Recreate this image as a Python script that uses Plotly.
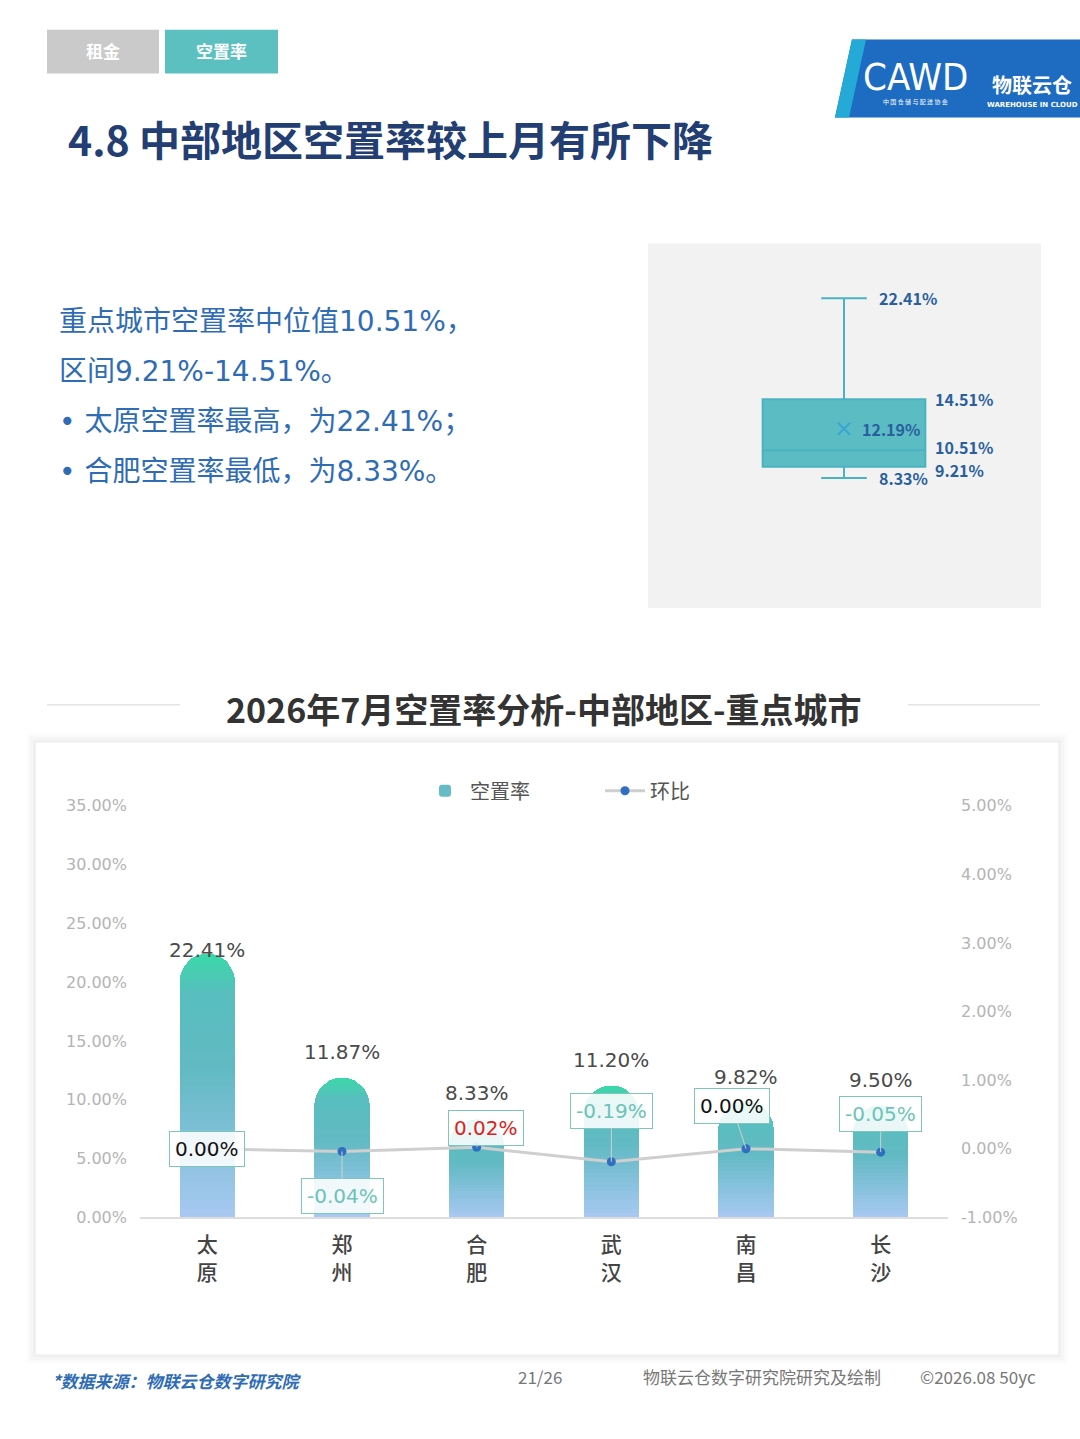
import plotly.graph_objects as go

# ---------------- data ----------------
cities = ["太原", "郑州", "合肥", "武汉", "南昌", "长沙"]
vacancy = [22.41, 11.87, 8.33, 11.20, 9.82, 9.50]      # 空置率 %
mom = [0.00, -0.04, 0.02, -0.19, 0.00, -0.05]           # 环比 %

left_ticks = [0, 5, 10, 15, 20, 25, 30, 35]
right_ticks = [-1, 0, 1, 2, 3, 4, 5]

# box-plot summary (重点城市空置率)
box_min = 8.33
box_q1 = 9.21
box_median = 10.51
box_mean = 12.19
box_q3 = 14.51
box_max = 22.41

W, H = 1080, 1439
FONT = "Noto Sans CJK SC"
NUMFONT = "DejaVu Sans, Noto Sans CJK SC"

# vertical placement correction for how the page is photographed
VS, VO = 0.9879, 8.35


def px(x):
    return x / W


def py(y):
    return 1 - ((y - VO) / VS) / H


fig = go.Figure()

# ---------- gradient bars (stacked slices of each bar) ----------
N = 30
stops = [(0.0, (168, 200, 242)), (0.55, (98, 186, 196)), (0.85, (88, 190, 190)), (1.0, (58, 216, 168))]


def grad(t):
    for (t0, c0), (t1, c1) in zip(stops[:-1], stops[1:]):
        if t <= t1:
            f = (t - t0) / (t1 - t0) if t1 > t0 else 0
            return "rgb(%d,%d,%d)" % tuple(round(a + (b - a) * f) for a, b in zip(c0, c1))
    return "rgb(%d,%d,%d)" % stops[-1][1]


for i in range(N):
    t = (i + 0.5) / N
    fig.add_trace(go.Bar(
        x=cities, y=[v / N for v in vacancy],
        marker=dict(color=grad(t), line=dict(width=0)),
        width=0.41, name="空置率",
        legendgroup="bar", showlegend=(i == N // 2),
        hoverinfo="skip", yaxis="y", xaxis="x",
    ))

fig.add_trace(go.Scatter(
    x=cities, y=mom, name="环比", mode="lines+markers",
    line=dict(color="#cfcfcf", width=3),
    marker=dict(color="#2f6fc0", size=9),
    xaxis="x", yaxis="y2",
))

# ---------- box plot ----------
fig.add_trace(go.Box(
    x=[0], q1=[box_q1], median=[box_median], q3=[box_q3],
    lowerfence=[box_min], upperfence=[box_max],
    width=0.83, whiskerwidth=0.28,
    fillcolor="#5bbcc4", line=dict(color="#4bb2c0", width=2),
    showlegend=False, xaxis="x3", yaxis="y3", hoverinfo="skip",
))
fig.add_trace(go.Scatter(
    x=[0], y=[box_mean], mode="markers",
    marker=dict(symbol="x-thin", size=12, line=dict(color="#3aa6d0", width=2)),
    showlegend=False, xaxis="x3", yaxis="y3", hoverinfo="skip",
))

shapes = []
ann = []


def ptext(x, y, text, size, color, xanchor="center", family=FONT):
    ann.append(dict(x=px(x), y=py(y), xref="paper", yref="paper", xanchor=xanchor, yanchor="middle",
                    text=text, showarrow=False, font=dict(size=size, color=color, family=family)))


def prect(x0, y0, x1, y1, color):
    shapes.append(dict(type="rect", xref="paper", yref="paper", x0=px(x0), x1=px(x1), y0=py(y1), y1=py(y0),
                       fillcolor=color, line=dict(width=0), layer="below"))


# tabs
prect(47, 29, 159, 73, "#cacaca")
prect(165, 29, 278, 73, "#5cc0c0")
ptext(103, 50, "<b>租金</b>", 17, "white")
ptext(221, 50, "<b>空置率</b>", 17, "white")

# logo
shapes.append(dict(type="path", xref="paper", yref="paper",
                   path="M %f,%f L %f,%f L %f,%f L %f,%f Z" % (px(852), py(39), px(1080), py(39), px(1080), py(117), px(835), py(117)),
                   fillcolor="#1d6cc2", line=dict(width=0), layer="below"))
shapes.append(dict(type="path", xref="paper", yref="paper",
                   path="M %f,%f L %f,%f L %f,%f L %f,%f Z" % (px(852), py(39), px(866), py(39), px(849), py(117), px(835), py(117)),
                   fillcolor="#25a9d6", line=dict(width=0), layer="below"))
ptext(915, 76, "CAWD", 38, "white", family="Liberation Sans Narrow, DejaVu Sans Condensed")
ptext(915, 101, "中 国 仓 储 与 配 送 协 会", 6, "white")
ptext(1032, 84, "<b>物联云仓</b>", 20, "white")
ptext(1032, 104, "<b>WAREHOUSE IN CLOUD</b>", 7, "white", family="Liberation Sans Narrow, DejaVu Sans")

# title
ptext(66, 137, "<b>4.8 中部地区空置率较上月有所下降</b>", 41, "#223e72", xanchor="left")

# left texts
txt_color = "#2f6cb4"
for yy, t in [(321, "重点城市空置率中位值10.51%，"), (371, "区间9.21%-14.51%。"),
              (421, "• 太原空置率最高，为22.41%；"), (471, "• 合肥空置率最低，为8.33%。")]:
    ptext(57, yy, t, 28, txt_color, xanchor="left", family=NUMFONT)

# box panel
prect(648, 243, 1041, 608, "#f2f2f2")
box_lbl = dict(size=16, color="#2a5f9e", family=FONT)
for xv, yv, t, ys in [(0.17, box_max, "22.41%", 0), (0.455, box_q3, "14.51%", 0),
                      (0.08, box_mean, "12.19%", 0), (0.455, box_median, "10.51%", 3),
                      (0.455, box_q1, "9.21%", -3), (0.17, box_min, "8.33%", 0)]:
    ann.append(dict(x=xv, y=yv, xref="x3", yref="y3", xanchor="left", yanchor="middle", yshift=ys,
                    text="<b>%s</b>" % t, showarrow=False, font=box_lbl))

# section header
shapes.append(dict(type="line", xref="paper", yref="paper", x0=px(47), x1=px(180), y0=py(705), y1=py(705),
                   line=dict(color="#d6d6d6", width=1)))
shapes.append(dict(type="line", xref="paper", yref="paper", x0=px(908), x1=px(1040), y0=py(705), y1=py(705),
                   line=dict(color="#d6d6d6", width=1)))
ptext(543, 709, "<b>2026年7月空置率分析-中部地区-重点城市</b>", 34, "#333333")

# card with soft shadow
for d, c in [(9, "#fbfbfb"), (6, "#f6f6f6"), (3, "#f0f0f0")]:
    prect(36 - d, 743 - d, 1058 + d, 1355 + d, c)
prect(36, 743, 1058, 1355, "white")

# bar value labels
label_yshift = [4, 26, 26, 26, 25, 26]
for c, v, s in zip(cities, vacancy, label_yshift):
    ann.append(dict(x=c, y=v, xref="x", yref="y", text="%.2f%%" % v, showarrow=False, yshift=s,
                    xanchor="center", yanchor="middle",
                    font=dict(size=20, color="#4a4a4a", family=NUMFONT)))

# mom labels (boxed)
label_offsets = [(0, 0), (0, 45), (9, -19), (0, -51), (-14, -43), (0, -38)]
for c, v, (ax_, ay_) in zip(cities, mom, label_offsets):
    col = "#111111" if v == 0 else ("#e02020" if v > 0 else "#6cc3b8")
    a = dict(x=c, y=v, xref="x", yref="y2", text="%.2f%%" % v,
             font=dict(size=20, color=col, family=NUMFONT),
             bgcolor="rgba(255,255,255,0.88)", bordercolor="#7cc6bc", borderwidth=1, borderpad=5)
    if ax_ == 0 and ay_ == 0:
        a["showarrow"] = False
    else:
        a.update(showarrow=True, arrowhead=0, arrowcolor="#d0d0d0", arrowwidth=1, ax=ax_, ay=ay_)
    ann.append(a)

# footer
ptext(50, 1381, "<b><i>*数据来源：物联云仓数字研究院</i></b>", 17, "#2f6cb4", xanchor="left")
ptext(540, 1377, "21/26", 17, "#777777")
ptext(641, 1377, "物联云仓数字研究院研究及绘制", 17, "#777777", xanchor="left")
ptext(1038, 1377, "©2026.08 50yc", 17, "#777777", xanchor="right")

tick_font = dict(size=16, color="#b4b4b4", family=NUMFONT)
fig.update_layout(
    width=W, height=H, margin=dict(l=0, r=0, t=0, b=0),
    paper_bgcolor="white", plot_bgcolor="rgba(0,0,0,0)",
    barmode="stack", barcornerradius=28,
    font=dict(family=FONT),
    showlegend=True,
    legend=dict(orientation="h", x=px(420), y=py(791), xanchor="left", yanchor="middle",
                font=dict(size=20, color="#555555", family=FONT), itemwidth=40,
                entrywidth=125, entrywidthmode="pixels",
                bgcolor="rgba(0,0,0,0)", traceorder="normal"),
    xaxis=dict(domain=[px(140), px(948)], anchor="y", type="category",
               tickvals=cities, ticktext=["<br>".join(c) for c in cities],
               tickfont=dict(size=21, color="#444444", family=FONT, weight=500), ticklabelstandoff=8,
               showline=True, linecolor="#dddddd", linewidth=2, showgrid=False, ticks="", zeroline=False,
               fixedrange=True),
    yaxis=dict(domain=[py(1218), py(806)], anchor="x", range=[0, 35], tickvals=left_ticks,
               ticktext=["%.2f%%" % t for t in left_ticks], tickfont=tick_font,
               showgrid=False, zeroline=False, showline=False, ticklabelstandoff=12),
    yaxis2=dict(domain=[py(1218), py(806)], anchor="x", overlaying="y", side="right", range=[-1, 5],
                tickvals=right_ticks, ticktext=["%.2f%%" % t for t in right_ticks], tickfont=tick_font,
                showgrid=False, zeroline=False, showline=False, ticklabelstandoff=12),
    xaxis3=dict(domain=[px(648), px(1040)], anchor="y3", range=[-1, 1], visible=False),
    yaxis3=dict(domain=[py(608), py(243)], anchor="x3", range=[-1.84, 26.71], visible=False),
    shapes=shapes, annotations=ann,
)

fig.write_html("out.html", config={"displayModeBar": False},
               post_script="document.body.style.margin='0';document.body.style.overflow='hidden';")
